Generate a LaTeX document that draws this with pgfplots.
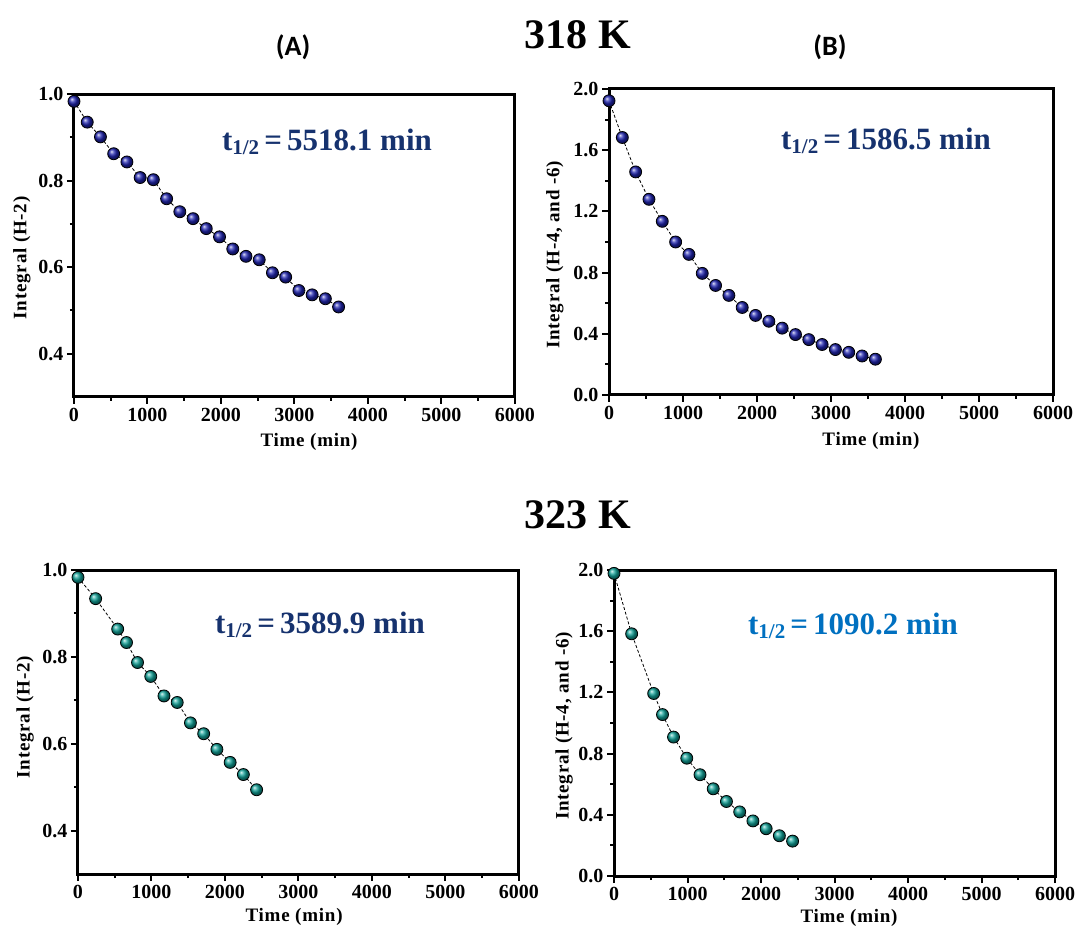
\documentclass[border=0pt]{standalone}
\usepackage{pgfplots}
\pgfplotsset{compat=1.18}
\usepackage{fontspec}
\setmainfont{Liberation Serif}
\newfontfamily\calib{Carlito}
\definecolor{navyball}{RGB}{30,35,175}
\definecolor{tealball}{RGB}{15,160,150}
\definecolor{navytext}{RGB}{22,50,110}
\definecolor{bluetext}{RGB}{0,112,192}

\pgfplotsset{
  panel/.style={
    scale only axis,
    xmin=0, xmax=6000,
    xtick={0,1000,...,6000},
    minor x tick num=1,
    minor y tick num=1,
    tick pos=left,
    tick align=outside,
    major tick length=7pt,
    minor tick length=4pt,
    axis line style={line width=3pt},
    every tick/.style={black, line width=2pt},
    clip=false,
    /pgf/number format/assume math mode=true,
    /pgf/number format/1000 sep={},
    ticklabel style={font=\bfseries\fontsize{20}{20}\selectfont},
    xticklabel style={yshift=-1pt},
    label style={font=\bfseries\fontsize{19}{19}\selectfont\addfontfeatures{LetterSpace=4}},
    xlabel={Time (min)},
    yticklabel style={/pgf/number format/fixed, /pgf/number format/fixed zerofill, /pgf/number format/precision=1},
  },
  navyp/.style={black, densely dashed, line width=0.8pt, mark=ball, mark size=6pt, mark options={solid, ball color=navyball}},
  tealp/.style={black, densely dashed, line width=0.8pt, mark=ball, mark size=6pt, mark options={solid, ball color=tealball}},
}

\begin{document}
\begin{tikzpicture}
\path[use as bounding box] (0pt,0pt) rectangle (1078pt,927pt);

% (A) 318 K, H-2
\begin{axis}[panel, at={(74pt,530pt)}, anchor=south west, width=441pt, height=303pt,
  ymin=0.3, ymax=1.0, ytick={0.4,0.6,0.8,1.0},
  ylabel={Integral (H-2)},
  xlabel style={at={(axis description cs:0.533,-0.149)}, anchor=center},
  ylabel style={at={(axis description cs:-0.118,0.459)}, anchor=center}]
\addplot[navyp] coordinates {
(0,0.983) (180,0.935) (360,0.901) (540,0.862) (720,0.843) (900,0.807) (1080,0.802)
(1260,0.758) (1440,0.728) (1620,0.712) (1800,0.689) (1980,0.670) (2160,0.642)
(2340,0.625) (2520,0.617) (2700,0.587) (2880,0.577) (3060,0.546) (3240,0.536)
(3420,0.527) (3600,0.508)};
\end{axis}

% (B) 318 K, H-4, -6
\begin{axis}[panel, at={(609pt,532pt)}, anchor=south west, width=444pt, height=306pt,
  ymin=0, ymax=2.0, ytick={0,0.4,...,2.0},
  ylabel={Integral (H-4, and -6)},
  xlabel style={at={(axis description cs:0.59,-0.150)}, anchor=center},
  ylabel style={at={(axis description cs:-0.122,0.458)}, anchor=center}]
\addplot[navyp] coordinates {
(0,1.923) (180,1.683) (360,1.458) (540,1.279) (720,1.135) (900,1.000) (1080,0.919)
(1260,0.795) (1440,0.716) (1620,0.651) (1800,0.572) (1980,0.520) (2160,0.482)
(2340,0.437) (2520,0.395) (2700,0.362) (2880,0.330) (3060,0.297) (3240,0.279)
(3420,0.255) (3600,0.234)};
\end{axis}

% (C) 323 K, H-2
\begin{axis}[panel, at={(78pt,53pt)}, anchor=south west, width=441pt, height=304pt,
  ymin=0.3, ymax=1.0, ytick={0.4,0.6,0.8,1.0},
  ylabel={Integral (H-2)},
  xlabel style={at={(axis description cs:0.49,-0.141)}, anchor=center},
  ylabel style={at={(axis description cs:-0.12,0.516)}, anchor=center}]
\addplot[tealp] coordinates {
(0,0.983) (240,0.934) (540,0.864) (660,0.833) (810,0.787) (990,0.755) (1170,0.710)
(1350,0.695) (1530,0.648) (1710,0.623) (1890,0.587) (2070,0.557) (2250,0.529) (2430,0.494)};
\end{axis}

% (D) 323 K, H-4, -6
\begin{axis}[panel, at={(614pt,51pt)}, anchor=south west, width=441pt, height=306pt,
  ymin=0, ymax=2.0, ytick={0,0.4,...,2.0},
  ylabel={Integral (H-4, and -6)},
  xlabel style={at={(axis description cs:0.533,-0.137)}, anchor=center},
  ylabel style={at={(axis description cs:-0.113,0.49)}, anchor=center}]
\addplot[tealp] coordinates {
(0,1.978) (240,1.583) (540,1.193) (660,1.055) (810,0.908) (990,0.770) (1170,0.662)
(1350,0.570) (1530,0.487) (1710,0.419) (1890,0.360) (2070,0.309) (2250,0.263) (2430,0.228)};
\end{axis}

% titles
\node[font=\bfseries\fontsize{42}{42}\selectfont] at (578pt,892pt) {318 K};
\node[font=\bfseries\fontsize{42}{42}\selectfont] at (578pt,412pt) {323 K};
\node[font=\calib\bfseries\fontsize{28}{28}\selectfont] at (293pt,880pt) {(A)};
\node[font=\calib\bfseries\fontsize{28}{28}\selectfont] at (830pt,880pt) {(B)};

% half-lives
\newcommand{\thalf}[1]{t\raisebox{-0.3ex}{\fontsize{21}{21}\selectfont 1/2}\,=\,#1 min}
\node[text=navytext, font=\bfseries\fontsize{31}{31}\selectfont] at (327pt,785pt) {\thalf{5518.1}};
\node[text=navytext, font=\bfseries\fontsize{31}{31}\selectfont] at (886pt,786pt) {\thalf{1586.5}};
\node[text=navytext, font=\bfseries\fontsize{31}{31}\selectfont] at (320pt,302pt) {\thalf{3589.9}};
\node[text=bluetext, font=\bfseries\fontsize{31}{31}\selectfont] at (853pt,301pt) {\thalf{1090.2}};
\end{tikzpicture}
\end{document}
